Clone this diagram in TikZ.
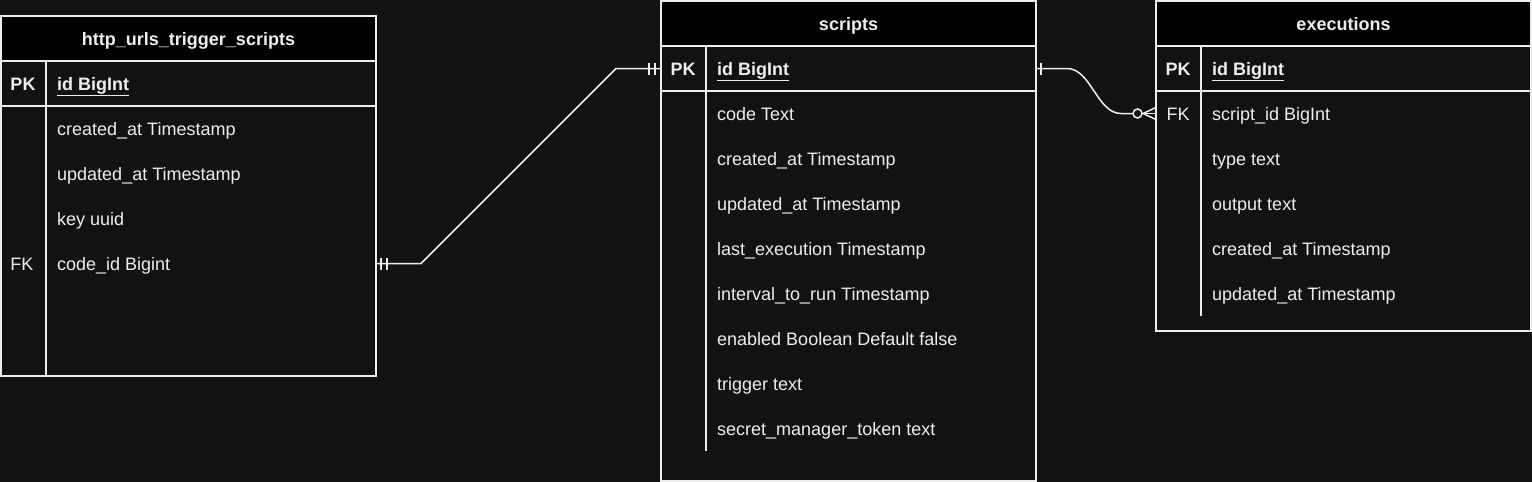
\documentclass[tikz,border=0pt]{standalone}
\usepackage{fontspec}
\setmainfont{Liberation Sans}
\usetikzlibrary{positioning}
\definecolor{bg}{HTML}{121212}
\definecolor{ln}{HTML}{EEEEEE}

\begin{document}
\begin{tikzpicture}[x=1pt,y=-1pt,
    tbox/.style={draw=ln,fill=bg,line width=1.5pt,inner sep=0pt,outer sep=0pt,minimum width=375pt},
    thead/.style={draw=ln,fill=black,line width=1.5pt,inner sep=0pt,outer sep=0pt,minimum width=375pt,minimum height=45pt,
      text=ln,font=\fontsize{18}{20}\selectfont\bfseries,text height=13pt,text depth=0pt},
    tline/.style={draw=ln,line width=1.5pt},
    keycell/.style={text=ln,font=\fontsize{18}{20}\selectfont,inner sep=0pt,text height=13pt,text depth=0pt},
    attr/.style={keycell,anchor=west},
    rel/.style={draw=ln,line width=1.5pt}]
  \fill[bg] (0,0) rectangle (1532,482);
  % http_urls_trigger_scripts
  \node[tbox,minimum height=360pt] (urls) at (188.5,196) {};
  \node[thead] (urlsh) at (188.5,38.5) {http\_urls\_trigger\_scripts};
  \draw[tline] (1,106) -- (376,106);
  \draw[tline] (46,61) -- (46,376);
  \node[keycell] (urlspk) at (23,83.5) {\bfseries PK};
  \node[attr] (urlsid) at (57,83.5) {\bfseries\underline{id BigInt}};
  \foreach \t [count=\i] in {created\_at Timestamp,updated\_at Timestamp,key uuid,code\_id Bigint}
    \node[attr] (urlsr\i) at (57,{83.5+45*\i}) {\t};
  \node[keycell] (urlsfk) at (22,263.5) {FK};
  % scripts
  \node[tbox,minimum height=480pt] (scripts) at (848.5,241) {};
  \node[thead] (scriptsh) at (848.5,23.5) {scripts};
  \draw[tline] (661,91) -- (1036,91);
  \draw[tline] (706,46) -- (706,451);
  \node[keycell] (scriptspk) at (683,68.5) {\bfseries PK};
  \node[attr] (scriptsid) at (717,68.5) {\bfseries\underline{id BigInt}};
  \foreach \t [count=\i] in {code Text,created\_at Timestamp,updated\_at Timestamp,last\_execution Timestamp,
      interval\_to\_run Timestamp,enabled Boolean Default false,trigger text,secret\_manager\_token text}
    \node[attr] (scriptsr\i) at (717,{68.5+45*\i}) {\t};
  % executions
  \node[tbox,minimum height=330pt] (execs) at (1343.5,166) {};
  \node[thead] (execsh) at (1343.5,23.5) {executions};
  \draw[tline] (1156,91) -- (1531,91);
  \draw[tline] (1201,46) -- (1201,316);
  \node[keycell] (execspk) at (1178,68.5) {\bfseries PK};
  \node[attr] (execsid) at (1212,68.5) {\bfseries\underline{id BigInt}};
  \foreach \t [count=\i] in {script\_id BigInt,type text,output text,created\_at Timestamp,updated\_at Timestamp}
    \node[attr] (execsr\i) at (1212,{68.5+45*\i}) {\t};
  \node[keycell] (execsfk) at (1178,113.5) {FK};
  % relations
  \coordinate (r1a) at (urls.east |- urlsr4);
  \coordinate (r1b) at (scripts.west |- scriptsid);
  \coordinate (r2a) at (scripts.east |- scriptsid);
  \coordinate (r2b) at (execs.west |- execsr1);
  \coordinate (r2c) at ([xshift=31pt]r2a);
  \coordinate (r2d) at ([xshift=-35pt]r2b);
  \draw[rel] (r1a) -- ++(45,0) -- ++(195,-195) -- (r1b);
  \draw[rel] (r1a) ++(5,-6) -- ++(0,12);
  \draw[rel] (r1a) ++(11,-6) -- ++(0,12);
  \draw[rel] (r1b) ++(-6,-6) -- ++(0,12);
  \draw[rel] (r1b) ++(-12,-6) -- ++(0,12);
  \draw[rel] (r2a) -- (r2c) .. controls ([xshift=24pt]r2c) and ([xshift=-24pt]r2d) .. (r2d) -- ([xshift=-23pt]r2b);
  \draw[rel] ([xshift=-18.5pt]r2b) circle[radius=4.5pt];
  \draw[rel] ([xshift=-14pt]r2b) -- (r2b);
  \draw[rel] (r2a) ++(5,-6) -- ++(0,12);
  \draw[rel] (r2b) ++(0,-6) -- ++(-13,6) -- ++(13,6);
\end{tikzpicture}
\end{document}
